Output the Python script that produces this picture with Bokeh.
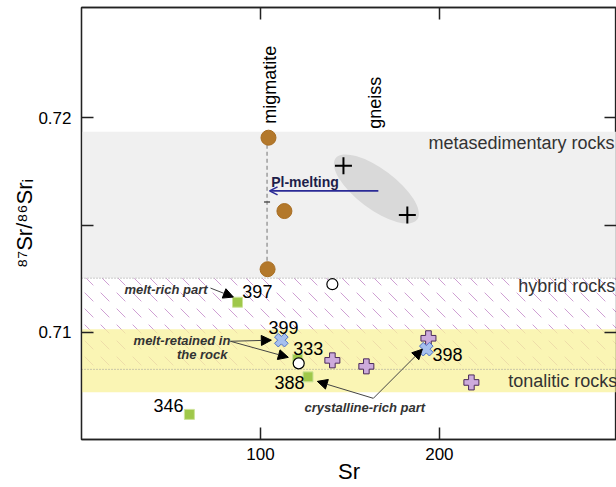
import math
from bokeh.plotting import figure
from bokeh.models import (Range1d, LinearAxis, FixedTicker, BoxAnnotation, Span,
                          Arrow, NormalHead, OpenHead)
from bokeh.core.properties import value
from bokeh.embed import file_html
from bokeh.resources import INLINE

FONT = "Liberation Sans"

# ---------------- data ----------------
mig_sr = [104.5, 113.4, 104.0]
mig_ratio = [0.71907, 0.71565, 0.71294]
mig_line_sr = [103.7, 103.7]
mig_line_ratio = [0.71907, 0.71294]
mig_mean_sr = [103.7]
mig_mean_ratio = [0.71607]

gneiss_sr = [146.4, 182.1]
gneiss_ratio = [0.71776, 0.71547]

hyb_sr = [140.2, 121.4]
hyb_ratio = [0.71224, 0.70855]

sq_sr = [87.2, 120.8, 126.6, 60.3]
sq_ratio = [0.71140, 0.70874, 0.70792, 0.70617]
sq_ids = ["397", "333", "388", "346"]
sq_id_sr = [89.9, 118.4, 107.8, 40.2]
sq_id_ratio = [0.71192, 0.70925, 0.70766, 0.70659]

xs_sr = [111.7, 192.7]
xs_ratio = [0.70963, 0.70921]
xs_ids = ["399", "398"]
xs_id_sr = [104.5, 196.1]
xs_id_ratio = [0.71023, 0.70897]

ton_sr = [193.9, 140.2, 159.2, 217.9]
ton_ratio = [0.70972, 0.70869, 0.70841, 0.70766]

# field bands (bottom, top)
meta_band = [0.71252, 0.71935]
hybrid_band = [0.70827, 0.71252]
tonal_band = [0.70720, 0.71014]

field_names = ["metasedimentary rocks", "hybrid rocks", "tonalitic rocks"]
field_sr = [193.9, 244.1, 238.5]
field_ratio = [0.71883, 0.71215, 0.70771]

x_ticks = [100, 200]
y_ticks = [0.71, 0.715, 0.72]
y_tick_labels = {0.71: "0.71", 0.715: "", 0.72: "0.72"}

# ---------------- figure ----------------
p = figure(width=616, height=487, output_backend="svg", toolbar_location=None,
           x_range=Range1d(0, 299), y_range=Range1d(0.705, 0.72514),
           min_border_left=81, min_border_right=0, min_border_top=7,
           min_border_bottom=48, x_axis_location=None, y_axis_location=None)
p.grid.visible = False
p.outline_line_color = "#222222"
p.outline_line_width = 1.3
p.background_fill_color = "white"
p.border_fill_color = "white"

def style_axis(ax, labels=True):
    ax.axis_line_color = "#222222"
    ax.axis_line_width = 1.3
    ax.major_tick_in = 12
    ax.major_tick_out = 0
    ax.major_tick_line_width = 1.5
    ax.major_tick_line_color = "#222222"
    ax.minor_tick_line_color = None
    if labels:
        ax.major_label_text_font = FONT
        ax.major_label_text_font_size = "17px"
        ax.major_label_text_color = "black"
        ax.axis_label_text_font = FONT
        ax.axis_label_text_font_size = "22px"
        ax.axis_label_text_font_style = "normal"
        ax.axis_label_text_color = "black"
    else:
        ax.major_label_text_font_size = "0px"
        ax.major_label_text_color = None
        ax.major_label_standoff = 0

xb = LinearAxis(ticker=FixedTicker(ticks=x_ticks), axis_label="Sr")
style_axis(xb)
xb.major_label_standoff = 8
xb.axis_label_standoff = -4
p.add_layout(xb, "below")
yl = LinearAxis(ticker=FixedTicker(ticks=y_ticks), major_label_overrides=y_tick_labels,
                axis_label="⁸⁷Sr/⁸⁶Srᵢ")
style_axis(yl)
yl.major_label_standoff = 10
yl.axis_label_standoff = -2
p.add_layout(yl, "left")
xt = LinearAxis(ticker=FixedTicker(ticks=x_ticks))
style_axis(xt, labels=False)
p.add_layout(xt, "above")
yr = LinearAxis(ticker=FixedTicker(ticks=y_ticks))
style_axis(yr, labels=False)
p.add_layout(yr, "right")

# ---------------- field bands ----------------
p.add_layout(BoxAnnotation(bottom=meta_band[0], top=meta_band[1], fill_color="#f0f0f0",
                           fill_alpha=1.0, line_color=None, level="underlay"))
p.add_layout(BoxAnnotation(bottom=hybrid_band[0], top=hybrid_band[1], fill_color="white",
                           fill_alpha=1.0, line_color=None, level="underlay",
                           hatch_pattern="left_diagonal_dash", hatch_color="#a040a8",
                           hatch_alpha=0.5, hatch_scale=16, hatch_weight=1.0))
p.add_layout(BoxAnnotation(bottom=tonal_band[0], top=tonal_band[1], fill_color="#f8f29b",
                           fill_alpha=0.75, line_color=None, level="underlay"))
for loc in hybrid_band:
    p.add_layout(Span(location=loc, dimension="width", line_color="#9a9a9a",
                      line_dash="1 2", line_width=1, level="underlay"))

for name, sx, sy in zip(field_names, field_sr, field_ratio):
    p.text(x=[sx], y=[sy], text=[name], text_font=value(FONT), text_font_size="18px",
           text_color="#333333", text_align="left", text_baseline="middle")

# gneiss ellipse
p.ellipse(x=[164.8], y=[0.71668], width=[102], height=[40], width_units="screen",
          height_units="screen", angle=[-36.9 * math.pi / 180], fill_color="#d9d9d9",
          line_color=None)

# migmatite dashed line
p.line(mig_line_sr, mig_line_ratio, line_color="#888888", line_dash="4 3", line_width=1.2)
p.scatter(mig_mean_sr, mig_mean_ratio, marker="dash", size=6, line_color="#555555", line_width=1.5)

# Pl-melting arrow
p.add_layout(Arrow(x_start=165.9, y_start=0.71659, x_end=105.1, y_end=0.71659,
                   line_color="#2a2a96", line_width=1.6,
                   end=OpenHead(size=8, line_color="#2a2a96", line_width=1.6)))
p.text(x=[106.0], y=[0.71699], text=["Pl-melting"], text_font=value(FONT),
       text_font_size="14px", text_font_style="bold", text_color="#1e1e4a",
       text_align="left", text_baseline="middle")

# rotated labels
p.text(x=[105.4], y=[0.71972], text=["migmatite"], angle=[math.pi / 2], text_font=value(FONT),
       text_font_size="18px", text_color="black", text_align="left", text_baseline="middle")
p.text(x=[164.2], y=[0.71949], text=["gneiss"], angle=[math.pi / 2], text_font=value(FONT),
       text_font_size="18px", text_color="black", text_align="left", text_baseline="middle")

# ---------------- annotation arrows ----------------
arrow_starts = [(72.1, 0.71206), (83.2, 0.70958), (83.2, 0.70958), (163.1, 0.70692), (163.1, 0.70692)]
arrow_ends = [(84.9, 0.71164), (106.1, 0.70963), (115.6, 0.70883), (131.8, 0.70771), (190.5, 0.70921)]
for (x0, y0), (x1, y1) in zip(arrow_starts, arrow_ends):
    p.add_layout(Arrow(x_start=x0, y_start=y0, x_end=x1, y_end=y1, line_color="#444444",
                       line_width=1,
                       end=NormalHead(size=10, fill_color="black", line_color="black")))

note_text = ["melt-rich part", "melt-retained in", "the rock", "crystalline-rich part"]
note_sr = [24.0, 29.1, 81.6, 124.6]
note_ratio = [0.71201, 0.70963, 0.70897, 0.70650]
note_align = ["left", "left", "right", "left"]
for t, sx, sy, al in zip(note_text, note_sr, note_ratio, note_align):
    p.text(x=[sx], y=[sy], text=[t], text_font=value(FONT), text_font_size="13px",
           text_font_style="bold italic", text_color="#333333", text_align=al,
           text_baseline="middle")

# ---------------- data markers ----------------
p.scatter(mig_sr, mig_ratio, marker="circle", size=15, fill_color="#b3782b", line_color="#a86d22")
p.scatter(gneiss_sr, gneiss_ratio, marker="cross", size=17, line_color="black", line_width=2)
p.scatter(ton_sr, ton_ratio, marker="plus", size=15, fill_color="#cdabdc", line_color="#4a2a5a",
          line_width=1)
p.scatter(sq_sr, sq_ratio, marker="square", size=10, fill_color="#9fc84a", line_color="#cde39a",
          line_width=1)
p.scatter(hyb_sr, hyb_ratio, marker="circle", size=11, fill_color="white", line_color="black",
          line_width=1.2)
p.scatter(xs_sr, xs_ratio, marker="plus", angle=math.pi / 4, size=14, fill_color="#a6c0ee",
          line_color="#4f72c4", line_width=1)

for ids, sx, sy in ((sq_ids, sq_id_sr, sq_id_ratio), (xs_ids, xs_id_sr, xs_id_ratio)):
    p.text(x=sx, y=sy, text=ids, text_font=value(FONT), text_font_size="18px",
           text_color="black", text_align="left", text_baseline="middle")

open("out.html", "w").write(file_html(p, INLINE))
